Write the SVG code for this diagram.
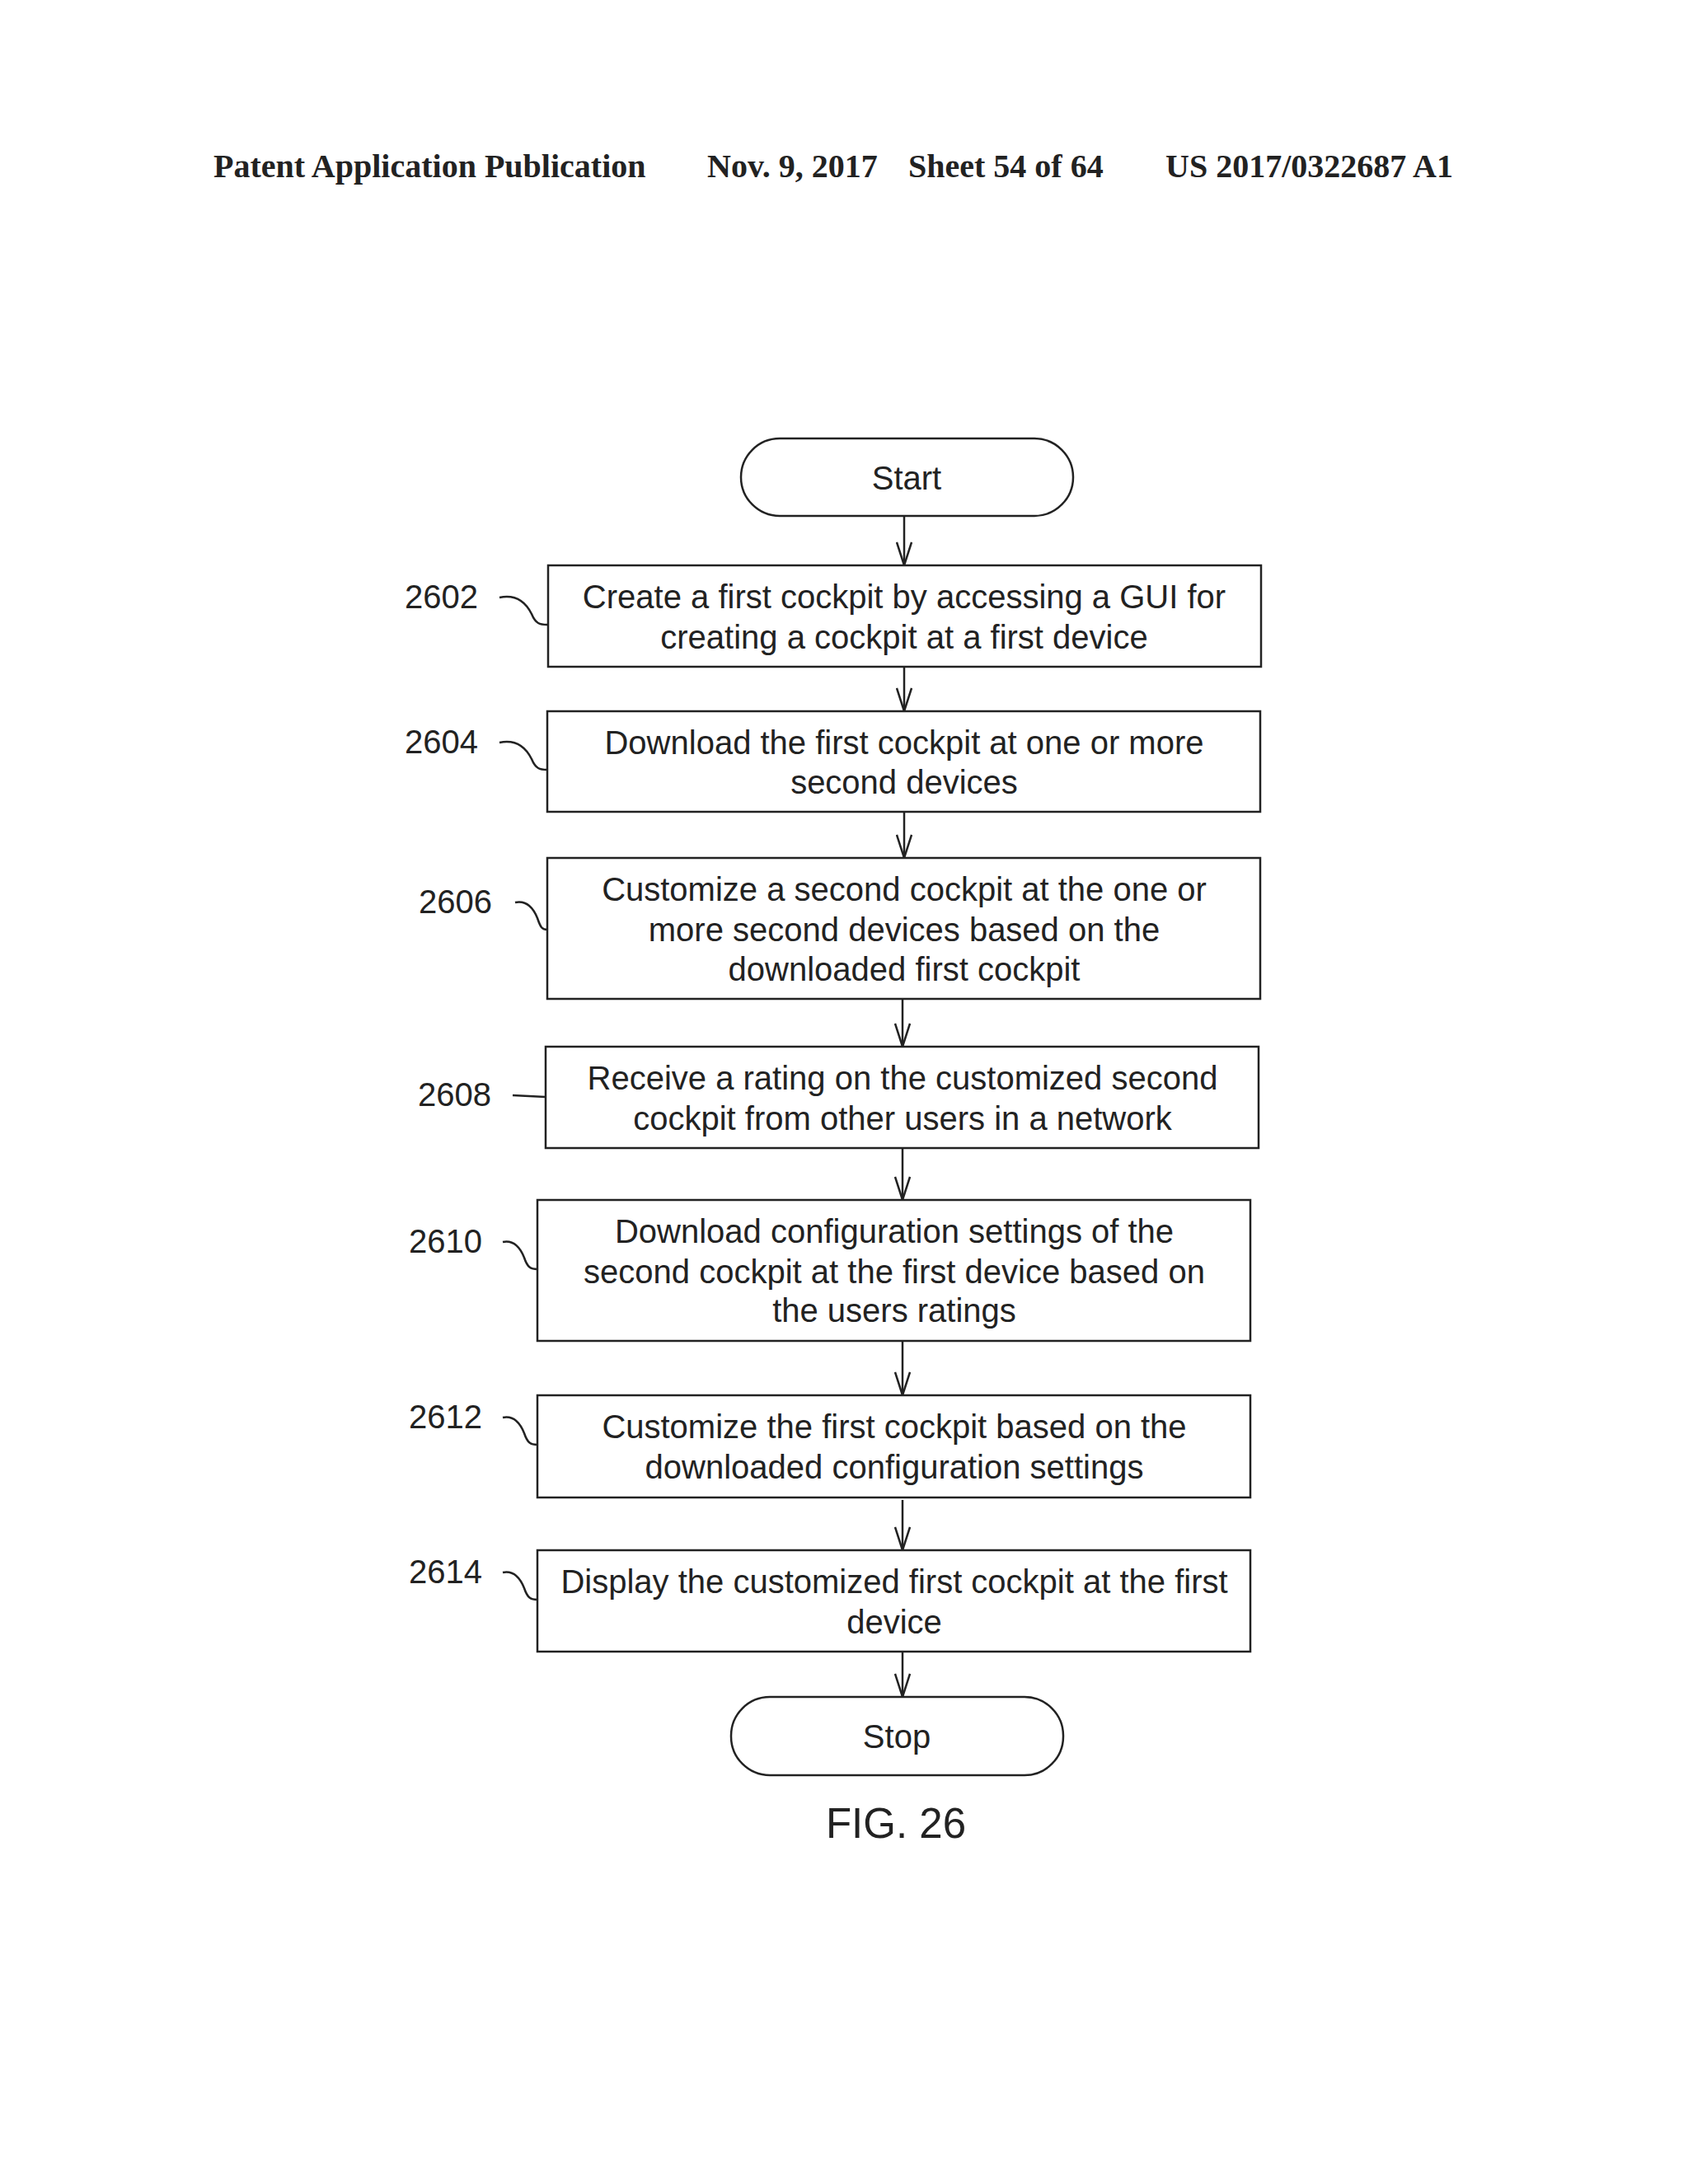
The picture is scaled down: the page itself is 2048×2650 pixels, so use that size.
<svg xmlns="http://www.w3.org/2000/svg" width="2048" height="2650" viewBox="0 0 2048 2650" xml:space="preserve">
<defs>
<marker id="ah" viewBox="0 0 30 20" refX="29" refY="10" markerWidth="30" markerHeight="20" markerUnits="userSpaceOnUse" orient="auto">
<path d="M1,1 L29,10 L1,19" fill="none" stroke="#222" stroke-width="2.5"/>
</marker>
<style>
.t{font-family:"Liberation Sans",Arial,sans-serif;font-size:40px;fill:#222;text-anchor:middle}
.l{font-family:"Liberation Sans",Arial,sans-serif;font-size:40px;fill:#222}
.h{font-family:"Liberation Serif","Times New Roman",serif;font-size:40px;font-weight:bold;fill:#222}
.b{fill:#fff;stroke:#222;stroke-width:2.5}
.c{fill:none;stroke:#222;stroke-width:2.5}
.a{fill:none;stroke:#222;stroke-width:2.5;marker-end:url(#ah)}
</style>
</defs>
<rect width="2048" height="2650" fill="#fff"/>
<g id="header">
<text class="h" x="259" y="215">Patent Application Publication</text>
<text class="h" x="858" y="215">Nov. 9, 2017</text>
<text class="h" x="1102" y="215">Sheet 54 of 64</text>
<text class="h" x="1414" y="215">US 2017/0322687 A1</text>
</g>
<g id="connectors">
<line class="a" x1="1097" y1="626" x2="1097" y2="686"/>
<line class="a" x1="1097" y1="809" x2="1097" y2="863"/>
<line class="a" x1="1097" y1="985" x2="1097" y2="1041"/>
<line class="a" x1="1095" y1="1212" x2="1095" y2="1270"/>
<line class="a" x1="1095" y1="1393" x2="1095" y2="1456"/>
<line class="a" x1="1095" y1="1627" x2="1095" y2="1693"/>
<line class="a" x1="1095" y1="1820" x2="1095" y2="1881"/>
<line class="a" x1="1095" y1="2004" x2="1095" y2="2059"/>
<path class="c" d="M606,725 C630,720 640,735 645,745 C650,757 655,758 664,758"/>
<path class="c" d="M606,901 C630,896 640,911 645,921 C650,933 655,934 664,934"/>
<path class="c" d="M625,1095 C640,1092 648,1104 652,1114 C656,1126 658,1128 664,1128"/>
<path class="c" d="M622,1329 L662,1331"/>
<path class="c" d="M610,1507 C625,1504 632,1516 636,1526 C640,1538 644,1540 652,1540"/>
<path class="c" d="M610,1720 C625,1717 632,1729 636,1739 C640,1751 644,1753 652,1753"/>
<path class="c" d="M610,1908 C625,1905 632,1917 636,1927 C640,1939 644,1941 652,1941"/>
</g>
<g id="start"><rect class="b" x="899" y="532" width="403" height="94" rx="47"/><text class="t" x="1100" y="594">Start</text></g>
<g id="n2602"><rect class="b" x="665" y="686" width="865" height="123"/>
<text class="t" x="1097" y="738">Create a first cockpit by accessing a GUI for</text>
<text class="t" x="1097" y="787">creating a cockpit at a first device</text>
<text class="l" x="491" y="738">2602</text></g>
<g id="n2604"><rect class="b" x="664" y="863" width="865" height="122"/>
<text class="t" x="1097" y="915">Download the first cockpit at one or more</text>
<text class="t" x="1097" y="963">second  devices</text>
<text class="l" x="491" y="914">2604</text></g>
<g id="n2606"><rect class="b" x="664" y="1041" width="865" height="171"/>
<text class="t" x="1097" y="1093">Customize a second cockpit at the one or</text>
<text class="t" x="1097" y="1142">more second devices based on the</text>
<text class="t" x="1097" y="1190">downloaded first cockpit</text>
<text class="l" x="508" y="1108">2606</text></g>
<g id="n2608"><rect class="b" x="662" y="1270" width="865" height="123"/>
<text class="t" x="1095" y="1322">Receive a rating on the customized second</text>
<text class="t" x="1095" y="1371">cockpit from other users in a network</text>
<text class="l" x="507" y="1342">2608</text></g>
<g id="n2610"><rect class="b" x="652" y="1456" width="865" height="171"/>
<text class="t" x="1085" y="1508">Download configuration settings  of the</text>
<text class="t" x="1085" y="1557">second cockpit at the first device based on</text>
<text class="t" x="1085" y="1604">the users ratings</text>
<text class="l" x="496" y="1520">2610</text></g>
<g id="n2612"><rect class="b" x="652" y="1693" width="865" height="124"/>
<text class="t" x="1085" y="1745">Customize the first cockpit based on the</text>
<text class="t" x="1085" y="1794">downloaded configuration settings</text>
<text class="l" x="496" y="1733">2612</text></g>
<g id="n2614"><rect class="b" x="652" y="1881" width="865" height="123"/>
<text class="t" x="1085" y="1933">Display the customized first cockpit at the first</text>
<text class="t" x="1085" y="1982">device</text>
<text class="l" x="496" y="1921">2614</text></g>
<g id="stop"><rect class="b" x="887" y="2059" width="403" height="95" rx="47"/><text class="t" x="1088" y="2121">Stop</text></g>
<text class="t" x="1087" y="2230" style="font-size:51px">FIG. 26</text>
</svg>
